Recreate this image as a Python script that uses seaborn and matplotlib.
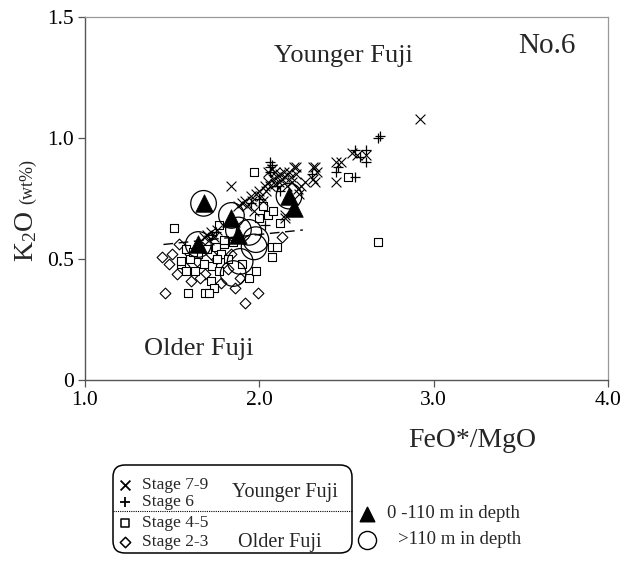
import numpy as np
import pandas as pd
import matplotlib
matplotlib.use("Agg")
import matplotlib.pyplot as plt
from matplotlib.patches import FancyBboxPatch
import seaborn as sns

# ---- data: FeO*/MgO vs K2O (wt%) ----
stage79_x = [2.92, 2.53, 2.56, 2.61, 2.44, 2.47, 2.44, 2.32, 2.33, 2.32, 2.21, 2.22, 2.23,
             2.31, 2.31, 2.20, 1.84, 2.15, 2.15,
             1.88, 1.90, 1.92, 1.93, 1.95, 1.96, 1.98, 2.00, 2.01, 2.03, 2.04, 2.05, 2.06,
             2.08, 2.09, 2.10, 2.11, 2.12, 2.13, 2.14, 2.15, 2.17, 2.18, 2.19, 2.21, 2.05,
             2.07, 2.09, 2.16, 2.02, 1.97, 2.24, 2.26,
             1.70, 1.72, 1.74, 1.71, 1.76, 1.68]
stage79_y = [1.08, 0.94, 0.93, 0.93, 0.90, 0.90, 0.82, 0.88, 0.86, 0.82, 0.88, 0.79, 0.77,
             0.88, 0.83, 0.88, 0.80, 0.68, 0.67,
             0.72, 0.73, 0.74, 0.72, 0.76, 0.74, 0.77, 0.78, 0.76, 0.80, 0.78, 0.82, 0.80,
             0.83, 0.81, 0.84, 0.82, 0.85, 0.83, 0.86, 0.84, 0.86, 0.84, 0.82, 0.85, 0.86,
             0.87, 0.86, 0.80, 0.74, 0.70, 0.80, 0.82,
             0.60, 0.61, 0.59, 0.58, 0.62, 0.59]

stage6_x = [2.68, 2.69, 2.55, 2.61, 2.61, 2.44, 2.55, 2.06, 2.06, 2.06, 2.07, 2.03, 2.10,
            1.95, 2.00, 1.73, 2.12, 2.30, 1.75, 2.45, 2.58]
stage6_y = [1.00, 1.01, 0.95, 0.95, 0.90, 0.86, 0.84, 0.86, 0.88, 0.90, 0.89, 0.64, 0.80,
            0.73, 0.75, 0.60, 0.78, 0.85, 0.61, 0.88, 0.92]

stage45_x = [2.68, 2.51, 1.97, 2.00, 2.05, 1.77, 2.07, 2.10, 2.07, 1.51, 1.59, 1.69, 1.94,
             1.55, 1.58, 1.63, 1.55, 1.60, 1.58, 1.72, 1.74, 1.71, 1.98, 1.65, 1.70, 1.75,
             1.78, 1.80, 1.73, 1.77, 1.82, 1.68, 2.12, 1.80, 1.85, 1.62, 2.02, 2.08, 1.90,
             1.76]
stage45_y = [0.57, 0.84, 0.86, 0.67, 0.68, 0.64, 0.55, 0.55, 0.51, 0.63, 0.36, 0.36, 0.42,
             0.48, 0.45, 0.45, 0.49, 0.50, 0.54, 0.41, 0.38, 0.36, 0.45, 0.52, 0.54, 0.55,
             0.52, 0.56, 0.47, 0.45, 0.50, 0.48, 0.65, 0.58, 0.57, 0.53, 0.72, 0.70, 0.48,
             0.50]

stage23_x = [1.44, 1.48, 1.53, 1.46, 1.92, 1.99, 1.89, 1.54, 1.61, 1.69, 1.78, 2.13, 1.57,
             1.64, 1.66, 1.75, 1.60, 1.82, 1.86, 1.72, 1.50, 1.84, 1.67]
stage23_y = [0.51, 0.48, 0.44, 0.36, 0.32, 0.36, 0.42, 0.56, 0.41, 0.44, 0.40, 0.59, 0.47,
             0.49, 0.42, 0.50, 0.52, 0.46, 0.38, 0.52, 0.52, 0.52, 0.55]

# drill-core samples by depth
shallow_x = [1.68, 1.84, 1.88, 1.65, 2.17, 2.20]
shallow_y = [0.73, 0.67, 0.60, 0.56, 0.76, 0.71]
deep_x = [1.68, 1.84, 1.65, 2.17, 1.88, 1.94, 1.98, 1.97, 1.89, 1.85]
deep_y = [0.73, 0.68, 0.56, 0.76, 0.62, 0.61, 0.58, 0.55, 0.49, 0.44]

# boundary between Younger and Older Fuji
divide_x = [1.45, 2.25]
divide_y = [0.56, 0.62]

x_ticks = [1.0, 2.0, 3.0, 4.0]
x_ticklabels = ["1.0", "2.0", "3.0", "4.0"]
y_ticks = [0.0, 0.5, 1.0, 1.5]
y_ticklabels = ["0", "0.5", "1.0", "1.5"]

sns.set_theme(style="white")
serif = ["Liberation Serif", "DejaVu Serif"]
plt.rcParams["font.family"] = serif
plt.rcParams["mathtext.fontset"] = "custom"
plt.rcParams["mathtext.rm"] = "Liberation Serif"
plt.rcParams["mathtext.it"] = "Liberation Serif:italic"

W, H = 625, 561
fig = plt.figure(figsize=(W / 100, H / 100), dpi=100)
ax = fig.add_axes([85 / W, 1 - 380 / H, 523 / W, 363 / H])

def frame(x, y):
    return pd.DataFrame({"x": x, "y": y})

sns.scatterplot(data=frame(stage23_x, stage23_y), x="x", y="y", ax=ax, marker="D",
                s=30, facecolor="white", edgecolor="black", linewidth=0.8, zorder=2)
sns.scatterplot(data=frame(stage45_x, stage45_y), x="x", y="y", ax=ax, marker="s",
                s=36, facecolor="white", edgecolor="black", linewidth=0.8, zorder=3)
sns.scatterplot(data=frame(stage6_x, stage6_y), x="x", y="y", ax=ax, marker="+",
                s=60, color="black", linewidth=0.9, zorder=4)
sns.scatterplot(data=frame(stage79_x, stage79_y), x="x", y="y", ax=ax, marker="x",
                s=50, color="black", linewidth=0.8, zorder=4)
sns.scatterplot(data=frame(deep_x, deep_y), x="x", y="y", ax=ax, marker="o",
                s=340, facecolor="none", edgecolor="black", linewidth=0.9, zorder=5)
sns.scatterplot(data=frame(shallow_x, shallow_y), x="x", y="y", ax=ax, marker="^",
                s=160, color="black", edgecolor="black", linewidth=0.5, zorder=6)
sns.lineplot(x=divide_x, y=divide_y, ax=ax, color="black", linewidth=1.0,
             dashes=False, zorder=7)
ax.lines[-1].set_dashes([7, 4])

ax.set_xlim(1.0, 4.0)
ax.set_ylim(0.0, 1.5)
ax.set_xticks(x_ticks)
ax.set_xticklabels(x_ticklabels)
ax.set_yticks(y_ticks)
ax.set_yticklabels(y_ticklabels)
ax.set_xlabel("")
ax.set_ylabel("")
ax.tick_params(axis="both", direction="out", length=5, width=0.9, color="#555555",
               labelsize=15.5, labelcolor="black", bottom=True, left=True, pad=3)
for side in ["left", "bottom"]:
    ax.spines[side].set_color("#555555")
    ax.spines[side].set_linewidth(1.0)
for side in ["top", "right"]:
    ax.spines[side].set_color("#999999")
    ax.spines[side].set_linewidth(0.9)

ax.text(2.48, 1.34, "Younger Fuji", fontsize=19, ha="center", va="center")
ax.text(3.65, 1.38, "No.6", fontsize=21, ha="center", va="center")
ax.text(1.65, 0.13, "Older Fuji", fontsize=19, ha="center", va="center")

# overlay in pixel coordinates for axis titles and key
ov = fig.add_axes([0, 0, 1, 1])
ov.set_xlim(0, W)
ov.set_ylim(H, 0)
ov.axis("off")

ov.text(472, 440, "FeO*/MgO", fontsize=20, ha="center", va="center")
ov.text(26, 262, r"K$_\mathregular{2}$O", fontsize=20, rotation=90, ha="center", va="bottom")
ov.text(28, 204, "(wt%)", fontsize=13, rotation=90, ha="center", va="bottom")

box = FancyBboxPatch((113, 465), 239, 88, boxstyle="round,pad=0,rounding_size=12",
                     facecolor="white", edgecolor="black", linewidth=1.1)
ov.add_patch(box)
ov.plot([113, 352], [511, 511], color="black", linewidth=0.8, linestyle=(0, (1, 1)))

key_rows = [("x", 485, "Stage 7-9"), ("+", 502, "Stage 6"),
            ("s", 523, "Stage 4-5"), ("D", 542, "Stage 2-3")]
for m, yy, label in key_rows:
    if m in ("x", "+"):
        ov.scatter([125], [yy], marker=m, s=50, color="black", linewidth=1.3)
    else:
        ov.scatter([125], [yy], marker=m, s=32 if m == "s" else 28, facecolor="white",
                   edgecolor="black", linewidth=1.1)
    ov.text(142, yy, label, fontsize=12.5, ha="left", va="center")
ov.text(285, 492, "Younger Fuji", fontsize=14.5, ha="center", va="center")
ov.text(280, 542, "Older Fuji", fontsize=14.5, ha="center", va="center")

ov.scatter([367], [514], marker="^", s=110, color="black")
ov.text(387, 514, "0 -110 m in depth", fontsize=13.5, ha="left", va="center")
ov.scatter([367], [540], marker="o", s=170, facecolor="white", edgecolor="black",
           linewidth=1.0)
ov.text(398, 540, ">110 m in depth", fontsize=13.5, ha="left", va="center")

fig.savefig("out.png", dpi=100, facecolor="white")
